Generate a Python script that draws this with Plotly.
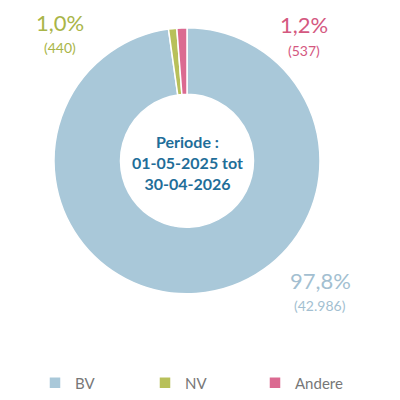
import plotly.graph_objects as go

categories = ["BV", "NV", "Andere"]
counts = [42986, 440, 537]
pct_labels = ["97,8%", "1,0%", "1,2%"]
count_labels = ["(42.986)", "(440)", "(537)"]
colors = ["#A9C8D9", "#B8C05A", "#DB6A91"]
text_colors = ["#A3BFD1", "#A9B548", "#D4587F"]
center_lines = ["Periode :", "01-05-2025 tot", "30-04-2026"]

W = H = 400
cx, cy, R = 187, 162, 134

fig = go.Figure(go.Pie(
    labels=categories, values=counts, sort=False, direction="clockwise", rotation=0,
    hole=0.5, marker=dict(colors=colors, line=dict(color="white", width=1.5)),
    textinfo="none", hoverinfo="label+value+percent",
    domain=dict(x=[(cx - R) / W, (cx + R) / W], y=[(H - cy - R) / H, (H - cy + R) / H]),
))

# label positions (pixels) for each category
label_pos = {"BV": (320, 283, 308), "NV": (60, 23, 48), "Andere": (304, 25, 51)}
anns = []
for cat, p, c, tc in zip(categories, pct_labels, count_labels, text_colors):
    x, y1, y2 = label_pos[cat]
    anns.append(dict(x=x / W, y=1 - y1 / H, xref="paper", yref="paper", text=p, showarrow=False,
                     font=dict(family="Lato", size=22, color=tc), xanchor="center", yanchor="middle"))
    anns.append(dict(x=x / W, y=1 - y2 / H, xref="paper", yref="paper", text=c, showarrow=False,
                     font=dict(family="Lato", size=14, color=tc), xanchor="center", yanchor="middle"))
anns.append(dict(x=cx / W, y=1 - (cy + 2) / H, xref="paper", yref="paper",
                 text="<br>".join(center_lines), showarrow=False,
                 font=dict(family="Lato", size=16, color="#1F6E99", weight="bold"),
                 xanchor="center", yanchor="middle", align="center"))

fig.update_layout(
    width=W, height=H, margin=dict(l=0, r=0, t=0, b=0),
    paper_bgcolor="white", plot_bgcolor="white",
    showlegend=True,
    legend=dict(orientation="h", x=35 / W, xanchor="left", y=1 - 386 / H, yanchor="middle",
                font=dict(family="Lato", size=15, color="#777777"),
                entrywidth=65, entrywidthmode="pixels", itemwidth=30,
                traceorder="normal"),
    annotations=anns,
)
fig.write_html("out.html")
